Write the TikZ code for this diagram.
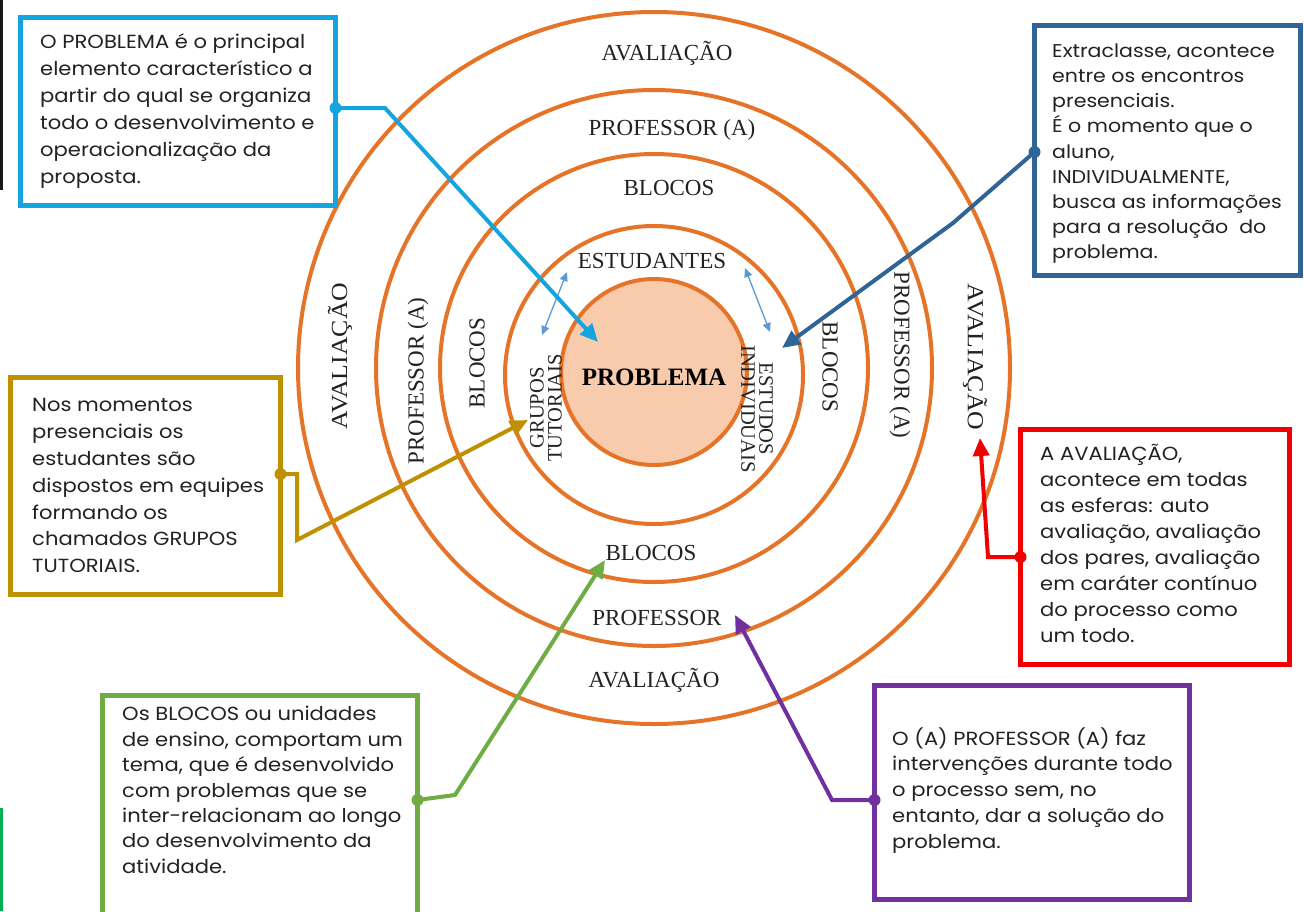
\documentclass[tikz,border=0pt]{standalone}
\usepackage{fontspec}
\setmainfont{Poppins}
\newfontfamily\rserif{Liberation Serif}
\usetikzlibrary{arrows.meta,calc}
\definecolor{ringc}{HTML}{E67428}
\definecolor{corefill}{HTML}{F8CBAD}
\definecolor{cyanc}{HTML}{14A5DE}
\definecolor{dbluec}{HTML}{2E6496}
\definecolor{goldc}{HTML}{BF9000}
\definecolor{redc}{HTML}{F00000}
\definecolor{greenc}{HTML}{6FAC44}
\definecolor{purplec}{HTML}{7030A0}
\definecolor{lbluec}{HTML}{5B9BD5}
\definecolor{txtc}{HTML}{222222}
\definecolor{barg}{HTML}{00B050}
\begin{document}
\begin{tikzpicture}[x=1pt,y=-1pt,
  ringnode/.style={circle, draw=ringc, line width=4pt, inner sep=0pt},
  lab/.style={font=\rserif\fontsize{23}{25}\selectfont, inner sep=0pt, text=txtc},
  smalllab/.style={font=\rserif\fontsize{20.5}{18}\selectfont, inner sep=0pt, align=center, text=txtc},
  boxnode/.style={rectangle, line width=5pt, inner sep=0pt, fill=white},
  txt/.style={anchor=north west, inner sep=0pt, align=left, text=txtc, xscale=1.11},
  conn/.style={line width=4pt, -{Triangle[length=18pt,width=16pt]}},
  dbl/.style={line width=1.3pt, draw=lbluec, {Triangle[length=9pt,width=8pt]}-{Triangle[length=9pt,width=8pt]}}
]
\useasboundingbox (0,0) rectangle (1304,911);
% side bars
\fill[black!90] (0,0) rectangle (3,190);
\fill[barg] (0,808) rectangle (3,911);
% rings
\node[ringnode, minimum size=712pt] (r1) at (654,368) {};
\node[ringnode, minimum size=556pt] (r2) at (654,368) {};
\node[ringnode, minimum size=428pt] (r3) at (654,368) {};
\node[ringnode, minimum size=298pt] (r4) at (654,375) {};
\node[ringnode, fill=corefill, minimum size=186pt] (core) at (654,372) {};
\node[font=\rserif\bfseries\fontsize{25}{27}\selectfont, inner sep=0pt, text=black] (prob) at (654,377) {PROBLEMA};
% ring labels
\node[lab] (ltop1) at (667,53) {AVALIAÇÃO};
\node[lab] (ltop2) at (672,130) {PROFESSOR (A)};
\node[lab] (ltop3) at (669,188) {BLOCOS};
\node[lab] (ltop4) at (652,261) {ESTUDANTES};
\node[lab] (lbot3) at (651,553) {BLOCOS};
\node[lab] (lbot2) at (657,618) {PROFESSOR};
\node[lab] (lbot1) at (654,680) {AVALIAÇÃO};
\node[lab, rotate=90, xscale=1.12] (lleft1) at (340,356) {AVALIAÇÃO};
\node[lab, rotate=90] (lleft2) at (418,381) {PROFESSOR (A)};
\node[lab, rotate=90] (lleft3) at (477,363) {BLOCOS};
\node[lab, rotate=-90] (lright3) at (830,367) {BLOCOS};
\node[lab, rotate=-90] (lright2) at (900,355) {PROFESSOR (A)};
\node[lab, rotate=-90, xscale=1.12] (lright1) at (975,357) {AVALIAÇÃO};
\node[smalllab, rotate=90] (grupos) at (546,408) {GRUPOS\\TUTORIAIS};
\node[smalllab, rotate=-90] (estudos) at (757,409) {ESTUDOS\\INDIVIDUAIS};
% double arrows
\coordinate (dl1) at (542,335); \coordinate (dl2) at (567,272);
\coordinate (dr1) at (770,332); \coordinate (dr2) at (745,268);
\draw[dbl] (dl1) -- (dl2);
\draw[dbl] (dr1) -- (dr2);
% boxes
\node[boxnode, draw=cyanc, minimum width=315pt, minimum height=188pt] (b1) at (178,111.5) {};
\node[txt, font=\fontsize{19}{27}\selectfont] (t1) at (40,29) {\strut O PROBLEMA é o principal\\elemento característico a\\partir do qual se organiza\\todo o desenvolvimento e\\operacionalização da\\proposta.};
\node[boxnode, draw=dbluec, minimum width=266pt, minimum height=250pt] (b2) at (1167.5,150.5) {};
\node[txt, font=\fontsize{18.5}{25.2}\selectfont] (t2) at (1052,39.4) {\strut Extraclasse, acontece\\entre os encontros\\presenciais.\\É o momento que o\\aluno,\\INDIVIDUALMENTE,\\busca as informações\\para a resolução\ \ do\\problema.};
\node[boxnode, draw=goldc, minimum width=270pt, minimum height=217pt] (b3) at (145.5,486) {};
\node[txt, font=\fontsize{19}{26.8}\selectfont] (t3) at (32,393) {\strut Nos momentos\\presenciais os\\estudantes são\\dispostos em equipes\\formando os\\chamados GRUPOS\\TUTORIAIS.};
\node[boxnode, draw=redc, minimum width=269pt, minimum height=235pt] (b4) at (1155,547) {};
\node[txt, font=\fontsize{19}{26}\selectfont] (t4) at (1040,442) {\strut A AVALIAÇÃO,\\acontece em todas\\as esferas: auto\\avaliação, avaliação\\dos pares, avaliação\\em caráter contínuo\\do processo como\\um todo.};
\node[boxnode, draw=greenc, minimum width=315pt, minimum height=240pt] (b5) at (260,815.5) {};
\node[txt, font=\fontsize{19}{25.4}\selectfont] (t5) at (122,703) {\strut Os BLOCOS ou unidades\\de ensino, comportam um\\tema, que é desenvolvido\\com problemas que se\\inter-relacionam ao longo\\do desenvolvimento da\\atividade.};
\node[boxnode, draw=purplec, minimum width=315pt, minimum height=214pt] (b6) at (1032,792.5) {};
\node[txt, font=\fontsize{19}{25.7}\selectfont] (t6) at (892,727) {\strut O (A) PROFESSOR (A) faz\\intervenções durante todo\\o processo sem, no\\entanto, dar a solução do\\problema.};
% connectors
\coordinate (c1s) at (335.5,108); \coordinate (c1a) at (385,108); \coordinate (c1t) at (598,342);
\draw[conn, cyanc] (c1s) -- (c1a) -- (c1t);
\fill[cyanc] (c1s) circle (6pt);
\coordinate (c2s) at (1034.5,152); \coordinate (c2a) at (953,223); \coordinate (c2t) at (782,348);
\draw[conn, dbluec] (c2s) -- (c2a) -- (c2t);
\fill[dbluec] (c2s) circle (6pt);
\coordinate (c3s) at (280.5,474); \coordinate (c3a) at (297,474); \coordinate (c3b) at (297,540); \coordinate (c3t) at (528,420);
\draw[conn, goldc] (c3s) -- (c3a) -- (c3b) -- (c3t);
\fill[goldc] (c3s) circle (6pt);
\coordinate (c4s) at (1020.5,557); \coordinate (c4a) at (988,557); \coordinate (c4t) at (980,438);
\draw[conn, redc] (c4s) -- (c4a) -- (c4t);
\fill[redc] (c4s) circle (6pt);
\coordinate (c5s) at (417.5,800); \coordinate (c5a) at (455,795); \coordinate (c5t) at (605,560);
\draw[conn, greenc] (c5s) -- (c5a) -- (c5t);
\fill[greenc] (c5s) circle (6pt);
\coordinate (c6s) at (874.5,800); \coordinate (c6a) at (832,800); \coordinate (c6t) at (735,615);
\draw[conn, purplec] (c6s) -- (c6a) -- (c6t);
\fill[purplec] (c6s) circle (6pt);
\end{tikzpicture}
\end{document}
